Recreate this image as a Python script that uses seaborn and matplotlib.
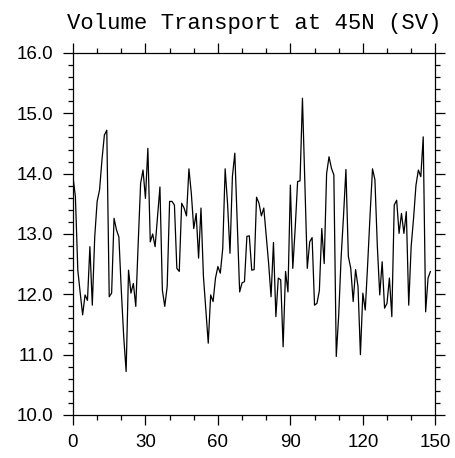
import numpy as np
import pandas as pd
import matplotlib
matplotlib.use("Agg")
import matplotlib.pyplot as plt
from matplotlib.ticker import MultipleLocator
import seaborn as sns

# Annual volume transport at 45N (Sverdrups), years 0..148
transport = [
    13.95, 13.62, 12.40, 12.02, 11.66, 11.99, 11.90, 12.79, 11.82, 12.95,
    13.54, 13.73, 14.23, 14.64, 14.72, 11.96, 12.02, 13.26, 13.07, 12.95,
    12.07, 11.30, 10.72, 12.40, 12.02, 12.18, 11.80, 12.85, 13.84, 14.06,
    13.59, 14.42, 12.87, 13.00, 12.79, 13.29, 13.78, 12.07, 11.80, 12.13,
    13.54, 13.54, 13.48, 12.43, 12.38, 13.51, 13.43, 13.30, 14.08, 13.67,
    13.09, 13.34, 12.60, 13.43, 12.30, 11.75, 11.19, 11.99, 11.88, 12.27,
    12.46, 12.35, 12.76, 14.08, 13.50, 12.68, 13.95, 14.34, 13.20, 12.04,
    12.19, 12.21, 12.96, 12.97, 12.40, 12.41, 13.61, 13.51, 13.30, 13.43,
    12.96, 12.51, 11.96, 12.86, 11.63, 12.27, 12.24, 11.13, 12.38, 12.04,
    13.81, 12.43, 13.10, 13.87, 13.88, 15.25, 13.84, 12.43, 12.87, 12.94,
    11.82, 11.85, 12.06, 13.09, 12.51, 14.00, 14.28, 14.09, 13.98, 10.97,
    11.65, 12.60, 13.30, 14.07, 12.63, 12.43, 11.88, 12.41, 12.13, 11.00,
    12.02, 11.74, 12.50, 13.32, 14.08, 13.90, 12.80, 11.99, 12.54, 11.77,
    11.85, 12.27, 11.63, 13.48, 13.56, 13.01, 13.34, 13.01, 13.37, 11.82,
    12.79, 13.26, 13.81, 14.06, 13.95, 14.61, 11.71, 12.27, 12.38,
]
years = list(range(len(transport)))

x_ticks = [0, 30, 60, 90, 120, 150]
y_ticks = [10.0, 11.0, 12.0, 13.0, 14.0, 15.0, 16.0]
title = "Volume Transport at 45N (SV)"

sns.set_style("ticks")
plt.rcParams["font.family"] = ["Liberation Sans", "DejaVu Sans"]

df = pd.DataFrame({"year": years, "transport": transport})

fig = plt.figure(figsize=(4.55, 4.58), dpi=100)
ax = fig.add_axes([0.1604, 0.0939, 0.7963, 0.7904])

sns.lineplot(data=df, x="year", y="transport", color="black",
             linewidth=0.9, ax=ax)

ax.set_xlim(0, 150)
ax.set_ylim(10, 16)
ax.set_xticks(x_ticks)
ax.set_xticklabels([str(v) for v in x_ticks])
ax.set_yticks(y_ticks)
ax.set_yticklabels([f"{v:.1f}" for v in y_ticks])
ax.xaxis.set_minor_locator(MultipleLocator(10))
ax.yaxis.set_minor_locator(MultipleLocator(0.2))
ax.set_xlabel("")
ax.set_ylabel("")

for s in ax.spines.values():
    s.set_visible(True)
    s.set_linewidth(0.9)
    s.set_color("black")

ax.tick_params(which="both", direction="out", top=True, right=True,
               color="black", width=0.9, labelsize=13.5, labelcolor="black")
ax.tick_params(which="major", length=7)
ax.tick_params(which="minor", length=3.6)
ax.tick_params(axis="x", which="major", pad=7)
ax.tick_params(axis="y", which="major", pad=7)

ax.set_title(title, fontsize=16, family=["Liberation Mono", "DejaVu Sans Mono"],
             pad=17, color="black")

fig.savefig("out.png", dpi=100, facecolor="white")
